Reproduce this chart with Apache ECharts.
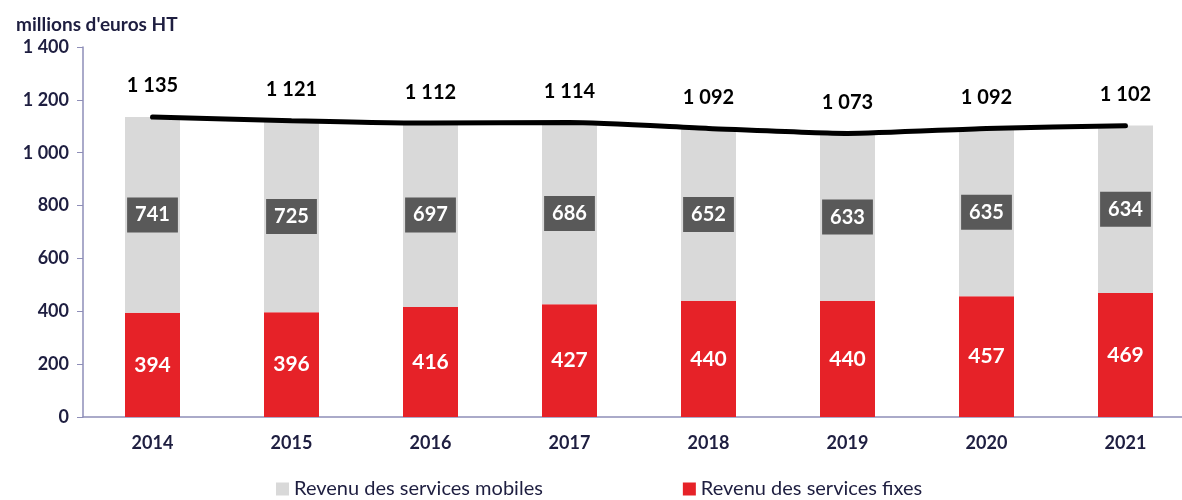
<!DOCTYPE html>
<html lang="fr">
<head>
    <meta charset="UTF-8">
    <title>Revenus des services</title>
    <script src="https://cdn.jsdelivr.net/npm/echarts@6.0.0/dist/echarts.min.js"></script>
</head>
<body style="margin: 0">
    <div id="container" style="width:1182px;height:500px"></div>
    <script type="text/javascript">
        var years = ['2014', '2015', '2016', '2017', '2018', '2019', '2020', '2021'];
        var fixes = [394, 396, 416, 427, 440, 440, 457, 469];
        var mobiles = [741, 725, 697, 686, 652, 633, 635, 634];
        var totals = [1135, 1121, 1112, 1114, 1092, 1073, 1092, 1102];

        var navy = '#1e1e40';
        var axisColor = '#8e8eb8';
        var font = 'Lato';

        // séparateur de milliers avec espace
        function fmt(v) {
            return String(v).replace(/\B(?=(\d{3})+(?!\d))/g, ' ');
        }

        var chart = echarts.init(document.getElementById('container'));
        var option = {
            animation: false,
            textStyle: { fontFamily: font },
            grid: { left: 83, top: 47, bottom: 83, width: 1112, outerBoundsMode: 'none' },
            title: {
                text: "millions d'euros HT",
                left: 11, top: 10,
                textStyle: { fontFamily: font, fontSize: 19, fontWeight: 'bold', color: navy }
            },
            legend: {
                bottom: -4, left: 271,
                itemWidth: 13, itemHeight: 13, itemGap: 140,
                icon: 'rect',
                data: ['Revenu des services mobiles', 'Revenu des services fixes'],
                textStyle: { fontFamily: font, fontSize: 20, color: navy }
            },
            xAxis: {
                type: 'category',
                data: years,
                axisLine: { lineStyle: { color: axisColor, width: 1.5 } },
                axisTick: { length: 7, lineStyle: { color: axisColor } },
                axisLabel: { margin: 17, fontSize: 18, fontWeight: 'bold', color: navy, fontFamily: font }
            },
            yAxis: {
                type: 'value',
                min: 0, max: 1400, interval: 200,
                splitLine: { show: false },
                axisLine: { show: true, lineStyle: { color: axisColor, width: 1.5 } },
                axisTick: { show: true, length: 6, lineStyle: { color: axisColor } },
                axisLabel: {
                    margin: 14, fontSize: 18, fontWeight: 'bold', color: navy, fontFamily: font,
                    formatter: fmt
                }
            },
            series: [
                {
                    name: 'Revenu des services fixes',
                    type: 'bar', stack: 'rev', barWidth: 55,
                    data: fixes,
                    itemStyle: { color: '#e62228' },
                    label: {
                        show: true, position: 'inside',
                        color: '#fff', fontSize: 21, fontWeight: 'bold', fontFamily: font
                    }
                },
                {
                    name: 'Revenu des services mobiles',
                    type: 'bar', stack: 'rev', barWidth: 55,
                    data: mobiles,
                    itemStyle: { color: '#d9d9d9' },
                    label: {
                        show: true, position: 'inside',
                        color: '#fff', fontSize: 20, fontWeight: 'bold', fontFamily: font,
                        backgroundColor: '#595959',
                        padding: [8, 8, 7, 8]
                    }
                },
                {
                    name: 'Total',
                    type: 'line',
                    data: totals,
                    symbol: 'circle',
                    symbolSize: 2,
                    showSymbol: true,
                    showAllSymbol: true,
                    itemStyle: { color: 'rgba(0,0,0,0)' },
                    smooth: 0.2,
                    lineStyle: { color: '#000', width: 5, cap: 'round' },
                    label: {
                        show: true, position: 'top', distance: 20,
                        color: '#000', fontSize: 20, fontWeight: 'bold', fontFamily: font,
                        formatter: function (p) { return fmt(p.value); }
                    },
                    z: 5
                }
            ]
        };
        chart.setOption(option);
    </script>
</body>
</html>
